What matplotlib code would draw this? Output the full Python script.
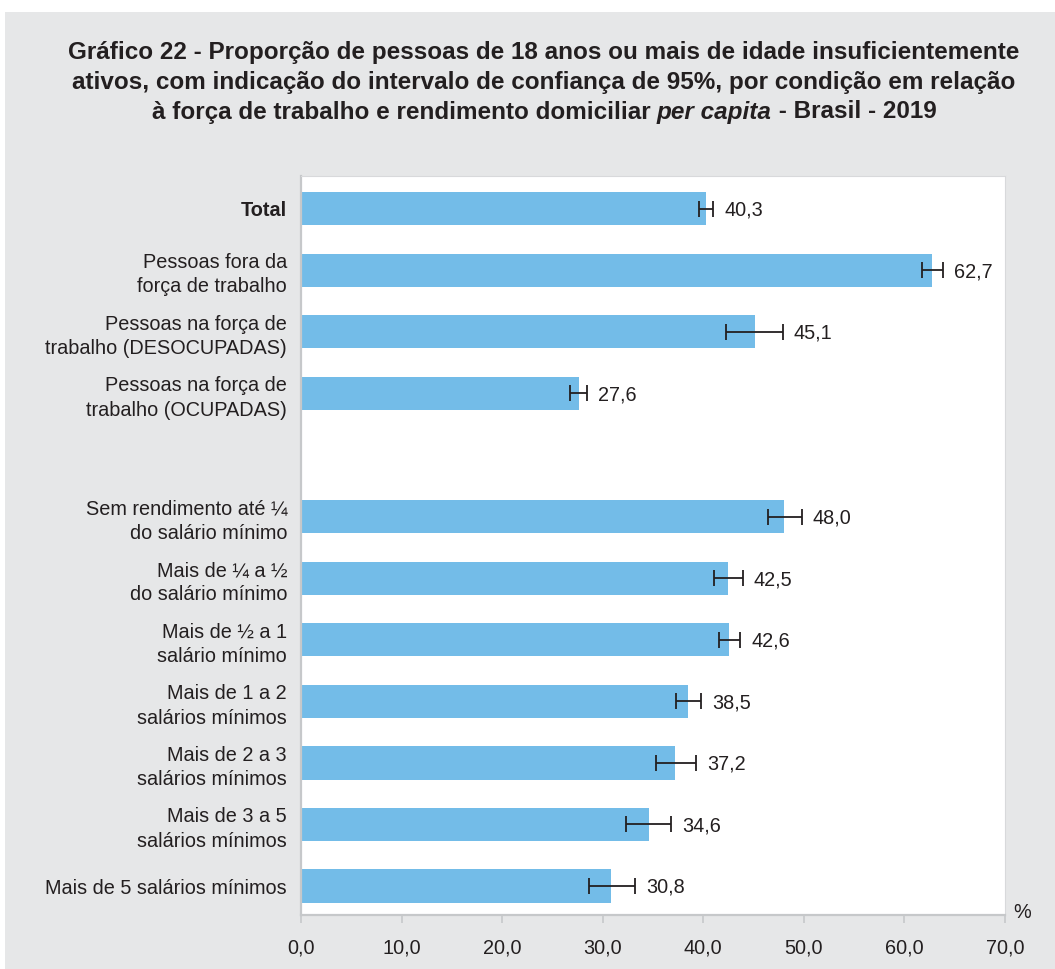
import matplotlib
matplotlib.use("Agg")
import matplotlib.pyplot as plt
from matplotlib.patches import Rectangle
import numpy as np

categories = [
    "Total",
    "Pessoas fora da\nforça de trabalho",
    "Pessoas na força de\ntrabalho (DESOCUPADAS)",
    "Pessoas na força de\ntrabalho (OCUPADAS)",
    "Sem rendimento até ¼\ndo salário mínimo",
    "Mais de ¼ a ½\ndo salário mínimo",
    "Mais de ½ a 1\nsalário mínimo",
    "Mais de 1 a 2\nsalários mínimos",
    "Mais de 2 a 3\nsalários mínimos",
    "Mais de 3 a 5\nsalários mínimos",
    "Mais de 5 salários mínimos",
]
values = [40.3, 62.7, 45.1, 27.6, 48.0, 42.5, 42.6, 38.5, 37.2, 34.6, 30.8]
ci_low = [39.6, 61.7, 42.3, 26.7, 46.4, 41.1, 41.6, 37.3, 35.3, 32.3, 28.6]
ci_high = [41.0, 63.8, 47.9, 28.4, 49.8, 43.9, 43.7, 39.8, 39.3, 36.8, 33.2]
xticks = [0, 10, 20, 30, 40, 50, 60, 70]
xticklabels = ["0,0", "10,0", "20,0", "30,0", "40,0", "50,0", "60,0", "70,0"]

FONT = "Liberation Sans"
TXT = "#231f20"
BAR = "#73bce8"
BG = "#e6e7e8"
SPINE = "#c6c8ca"
FS = 14.3

W, H = 1055, 969
fig = plt.figure(figsize=(W / 100, H / 100), dpi=100)
fig.patch.set_facecolor("white")
fig.patches.append(Rectangle((5 / W, 0), 1 - 5 / W, 1 - 12 / H, transform=fig.transFigure,
                             facecolor=BG, edgecolor="none", zorder=-10))

ax = fig.add_axes([301 / W, 1 - 915 / H, (1005 - 301) / W, (915 - 176) / H])
ax.set_facecolor("white")

# positions: a blank slot between the two groups
pos = np.array([0, 1, 2, 3, 5, 6, 7, 8, 9, 10, 11], dtype=float)
vals = np.array(values)
lo = vals - np.array(ci_low)
hi = np.array(ci_high) - vals

ax.barh(pos, vals, height=0.54, color=BAR, zorder=2)
ax.errorbar(vals, pos, xerr=[lo, hi], fmt="none", ecolor="#231f20", elinewidth=1.3,
            capsize=5.5, capthick=1.3, zorder=3)

for p, v, h in zip(pos, values, ci_high):
    ax.annotate(f"{v:.1f}".replace(".", ","), xy=(h, p), xytext=(8, -1),
                textcoords="offset points", va="center", ha="left",
                fontsize=FS, family=FONT, color=TXT)

ax.set_xlim(0, 70)
ax.set_ylim(11.47, -0.53)
ax.set_yticks(pos)
ax.set_yticklabels(categories, fontsize=FS, family=FONT, color=TXT, linespacing=1.35)
for lbl in ax.get_yticklabels():
    if lbl.get_text() == "Total":
        lbl.set_fontweight("bold")
ax.tick_params(axis="y", length=0, pad=10)
ax.set_xticks(xticks)
ax.set_xticklabels(xticklabels, fontsize=FS, family=FONT, color=TXT)
ax.tick_params(axis="x", direction="out", length=6, width=1.2, color=SPINE, pad=11)

for s in ["left", "bottom"]:
    ax.spines[s].set_color(SPINE)
    ax.spines[s].set_linewidth(1.6)
for s in ["top", "right"]:
    ax.spines[s].set_color("#d8d9db")
    ax.spines[s].set_linewidth(0.8)

fig.text(1022 / W, 1 - 912 / H, "%", fontsize=FS, family=FONT, color=TXT, ha="center", va="center")

# title
TFS = 17.5
CX = 544
tkw = dict(fontsize=TFS, family=FONT, color=TXT, fontweight="bold", ha="center", va="center")
fig.text(CX / W, 1 - 52 / H,
         "Gráfico 22 - Proporção de pessoas de 18 anos ou mais de idade insuficientemente", **tkw)
fig.text(CX / W, 1 - 82 / H,
         "ativos, com indicação do intervalo de confiança de 95%, por condição em relação", **tkw)

# third line with italic part
parts = [("à força de trabalho e rendimento domiciliar ", "normal"),
         ("per capita", "italic"),
         (" - Brasil - 2019", "normal")]
fig.canvas.draw()
r = fig.canvas.get_renderer()
objs = []
for s, st in parts:
    t = fig.text(0, 1 - 112 / H, s, fontsize=TFS, family=FONT, color=TXT, fontweight="bold",
                 style=st, ha="left", va="center")
    objs.append(t)
widths = [o.get_window_extent(renderer=r).width for o in objs]
total = sum(widths)
x0 = CX - total / 2
for o, w in zip(objs, widths):
    o.set_x(x0 / W)
    x0 += w

fig.savefig("out.png", dpi=100, facecolor=fig.get_facecolor())
